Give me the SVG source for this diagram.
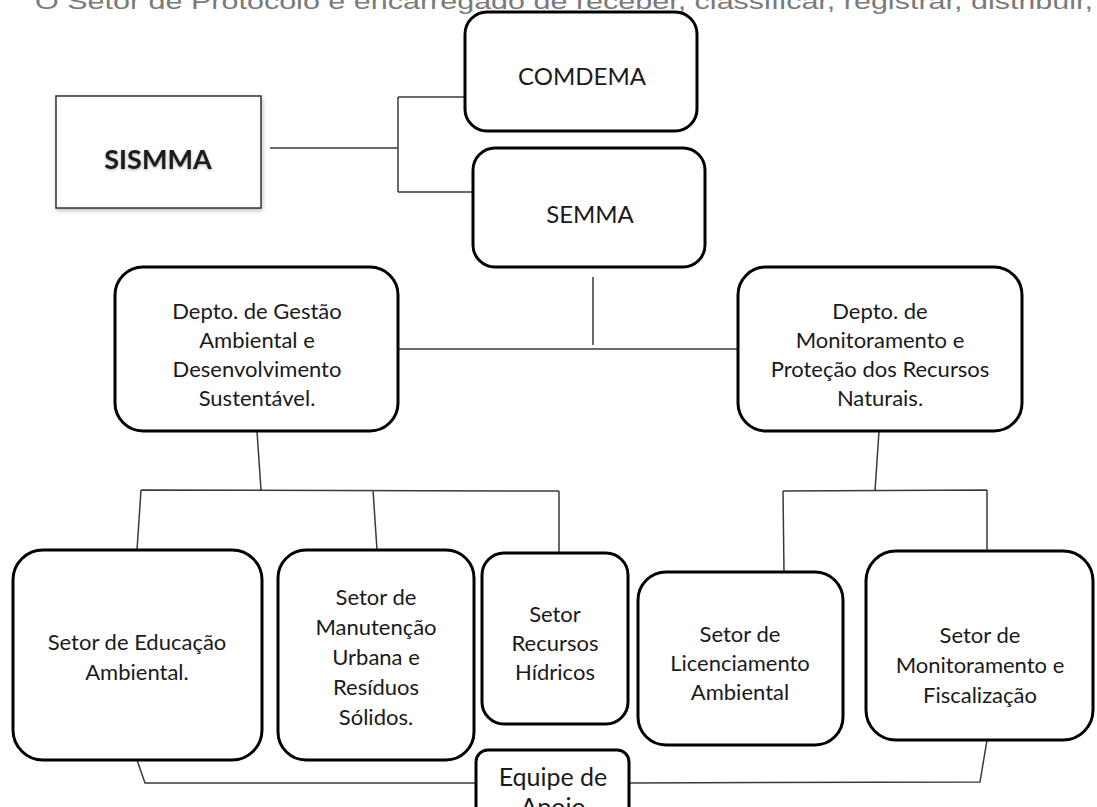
<svg xmlns="http://www.w3.org/2000/svg" width="1097" height="807" viewBox="0 0 1097 807">
<defs>
<style>
.box{fill:#fff;stroke:#000;stroke-width:3}
.t{font-family:Lato,"Open Sans",sans-serif;font-size:22px;fill:#1a1a1a;text-anchor:middle}
.h{font-size:24px}
.big{font-size:25px}
.con{fill:none;stroke:#3a3a3a;stroke-width:1.5}
</style>
<filter id="sh" x="-10%" y="-10%" width="130%" height="130%">
<feDropShadow dx="1" dy="2" stdDeviation="2" flood-color="#000" flood-opacity="0.25"/>
</filter>
<filter id="glow" x="-10%" y="-30%" width="120%" height="160%">
<feGaussianBlur in="SourceAlpha" stdDeviation="1.5" result="b"/>
<feOffset dx="0" dy="1" in="b" result="o"/>
<feFlood flood-color="#000" flood-opacity="0.35"/>
<feComposite operator="in" in2="o"/>
<feMerge><feMergeNode/><feMergeNode in="SourceGraphic"/></feMerge>
</filter>
</defs>
<rect width="1097" height="807" fill="#fff"/>
<text x="35" y="9" font-family="Liberation Sans,Arial,sans-serif" font-size="22" fill="#7a7a7a" textLength="1058" lengthAdjust="spacingAndGlyphs">O Setor de Protocolo é encarregado de receber, classificar, registrar, distribuir,</text>

<g id="connectors">
<path class="con" d="M270 148H398M398 97V192M398 97H465M398 192H473"/>
<path class="con" d="M593 277V345M398 349H738"/>
<path class="con" d="M257 431L261 490M141 490L559 491M141 490L137 550M373 490L377 550M559 491V553"/>
<path class="con" d="M879 431L875 491M783 491L987 490M783 491L784 572M987 490V551"/>
<path class="con" d="M137 760L145 783H476M629 783L980 782L987 740"/>
</g>

<g id="sismma">
<rect x="56" y="96" width="205" height="112" fill="#fff" stroke="#333" stroke-width="1.5" filter="url(#sh)"/>
<text x="158" y="169" class="t" style="font-weight:bold;font-size:27px" filter="url(#glow)">SISMMA</text>
</g>
<g id="comdema">
<rect class="box" x="465" y="12" width="232" height="119" rx="22"/>
<text class="t h" x="582" y="85">COMDEMA</text>
</g>
<g id="semma">
<rect class="box" x="473" y="148" width="232" height="119" rx="22"/>
<text class="t h" x="590" y="223">SEMMA</text>
</g>
<g id="depto-gestao">
<rect class="box" x="115" y="267" width="283" height="164" rx="28"/>
<text class="t" x="257" y="319">Depto. de Gestão</text>
<text class="t" x="257" y="348">Ambiental e</text>
<text class="t" x="257" y="377">Desenvolvimento</text>
<text class="t" x="257" y="406">Sustentável.</text>
</g>
<g id="depto-monitoramento">
<rect class="box" x="738" y="267" width="284" height="164" rx="28"/>
<text class="t" x="880" y="319">Depto. de</text>
<text class="t" x="880" y="348">Monitoramento e</text>
<text class="t" x="880" y="377">Proteção dos Recursos</text>
<text class="t" x="880" y="406">Naturais.</text>
</g>
<g id="setor-educacao">
<rect class="box" x="13" y="550" width="249" height="210" rx="30"/>
<text class="t" x="137" y="650">Setor de Educação</text>
<text class="t" x="137" y="680">Ambiental.</text>
</g>
<g id="setor-manutencao">
<rect class="box" x="278" y="550" width="196" height="210" rx="28"/>
<text class="t" x="376" y="605">Setor de</text>
<text class="t" x="376" y="635">Manutenção</text>
<text class="t" x="376" y="665">Urbana e</text>
<text class="t" x="376" y="695">Resíduos</text>
<text class="t" x="376" y="725">Sólidos.</text>
</g>
<g id="setor-recursos">
<rect class="box" x="482" y="553" width="146" height="171" rx="22"/>
<text class="t" x="555" y="622">Setor</text>
<text class="t" x="555" y="651">Recursos</text>
<text class="t" x="555" y="680">Hídricos</text>
</g>
<g id="setor-licenciamento">
<rect class="box" x="638" y="572" width="205" height="173" rx="28"/>
<text class="t" x="740" y="642">Setor de</text>
<text class="t" x="740" y="671">Licenciamento</text>
<text class="t" x="740" y="700">Ambiental</text>
</g>
<g id="setor-monitoramento">
<rect class="box" x="866" y="551" width="227" height="189" rx="30"/>
<text class="t" x="980" y="643">Setor de</text>
<text class="t" x="980" y="673">Monitoramento e</text>
<text class="t" x="980" y="703">Fiscalização</text>
</g>
<g id="equipe-apoio">
<rect class="box" x="476" y="750" width="153" height="80" rx="12"/>
<text class="t big" x="553" y="786">Equipe de</text>
<text class="t big" x="553" y="816">Apoio</text>
</g>
</svg>
